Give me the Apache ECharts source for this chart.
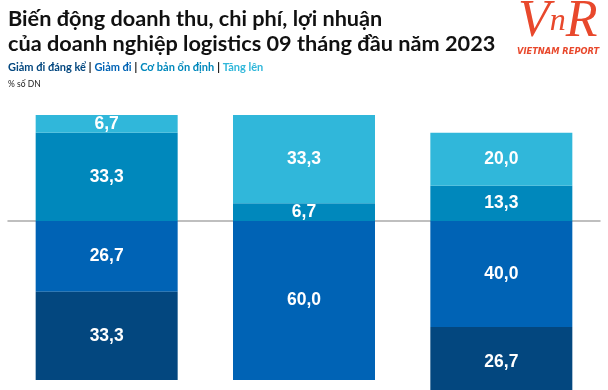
<!DOCTYPE html>
<html><head><meta charset="utf-8">
<script src="https://cdn.jsdelivr.net/npm/echarts@6/dist/echarts.min.js"></script>
<style>html,body{margin:0;padding:0;background:#fff}#c{width:608px;height:390px}</style>
</head><body><div id="c"></div>
<script>
const categories = ['Doanh thu', 'Chi phí', 'Lợi nhuận'];
const giamDiDangKe = [33.3, 0, 26.7];
const giamDi = [26.7, 60.0, 40.0];
const coBanOnDinh = [33.3, 6.7, 13.3];
const tangLen = [6.7, 33.3, 20.0];
const seriesNames = ['Giảm đi đáng kể', 'Giảm đi', 'Cơ bản ổn định', 'Tăng lên'];
const colors = ['#03477f', '#0063b5', '#0088bc', '#30b7da'];

const chart = echarts.init(document.getElementById('c'));
const lbl = {
  show: true, position: 'inside', color: '#fff',
  fontFamily: '"Liberation Sans",Arial,sans-serif',
  fontWeight: 'bold', fontSize: 17.5,
  formatter: p => p.value === 0 ? '' : Math.abs(p.value).toFixed(1).replace('.', ',')
};
function mk(name, data, color, neg) {
  return {
    name, type: 'bar', stack: 'all', barWidth: 142,
    data: data.map(v => neg ? -v : v),
    itemStyle: { color }, label: lbl, emphasis: { disabled: true }
  };
}
const ff = '"Lato",sans-serif';
chart.setOption({
  animation: false,
  title: [{
    text: 'Biến động doanh thu, chi phí, lợi nhuận\ncủa doanh nghiệp logistics 09 tháng đầu năm 2023',
    left: 3, top: 2,
    textStyle: { fontFamily: ff, fontWeight: 'bold', fontSize: 21.7, lineHeight: 25, color: '#111' }
  }, {
    text: '{a|Giảm đi đáng kể} {s||} {b|Giảm đi} {s||} {c|Cơ bản ổn định} {s||} {d|Tăng lên}',
    left: 3, top: 56,
    textStyle: {
      fontFamily: ff, fontSize: 11, fontWeight: 'bold',
      rich: {
        a: { color: colors[0], fontSize: 11, fontWeight: 'bold', fontFamily: ff },
        b: { color: colors[1], fontSize: 11, fontWeight: 'bold', fontFamily: ff },
        c: { color: colors[2], fontSize: 11, fontWeight: 'bold', fontFamily: ff },
        d: { color: colors[3], fontSize: 11, fontWeight: 'bold', fontFamily: ff },
        s: { color: '#222', fontSize: 12, fontWeight: 'bold', fontFamily: ff }
      }
    }
  }, {
    text: '% số DN', left: 3, top: 75,
    textStyle: { fontFamily: ff, fontSize: 8.5, fontWeight: 'normal', color: '#222' }
  }],
  graphic: [{
    type: 'text', left: 518, top: -4,
    style: {
      text: '{v|V}{n|n}{r|R}',
      rich: {
        v: { fontFamily: '"Liberation Serif",serif', fontStyle: 'italic', fontSize: 52, fill: '#e8482c' },
        n: { fontFamily: '"Liberation Serif",serif', fontStyle: 'italic', fontSize: 32, fill: '#e8482c' },
        r: { fontFamily: '"Liberation Serif",serif', fontStyle: 'italic', fontSize: 52, fill: '#e8482c' }
      }
    }
  }, {
    type: 'text', left: 517, top: 48,
    style: { text: 'VIETNAM REPORT', fontFamily: '"DejaVu Sans",sans-serif', fontStyle: 'italic', fontWeight: 'bold', fontSize: 8.3, fill: '#e8482c' }
  }],
  grid: { left: 8, right: 8, top: 115, height: 291.5, outerBoundsMode: 'none', containLabel: false },
  xAxis: {
    type: 'category', data: categories,
    axisLine: { show: true, onZero: true, lineStyle: { color: '#aaa', width: 1.5 } },
    axisTick: { show: false }, axisLabel: { show: false }
  },
  yAxis: { type: 'value', min: -70, max: 40, show: false, splitLine: { show: false } },
  series: [
    mk(seriesNames[1], giamDi, colors[1], true),
    mk(seriesNames[0], giamDiDangKe, colors[0], true),
    mk(seriesNames[2], coBanOnDinh, colors[2], false),
    mk(seriesNames[3], tangLen, colors[3], false)
  ]
});
</script></body></html>
